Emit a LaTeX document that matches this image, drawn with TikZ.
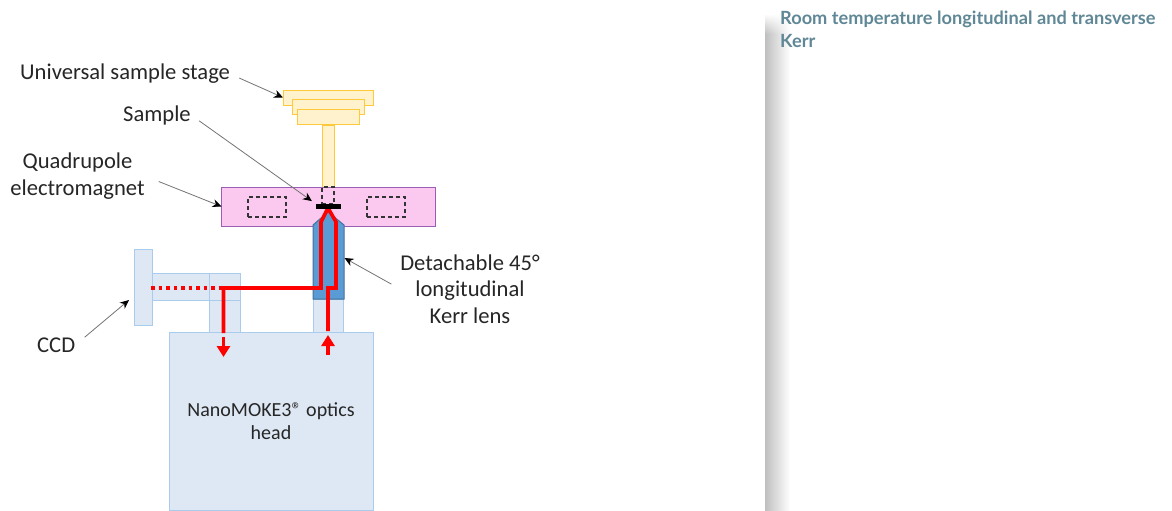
\documentclass[tikz,border=0pt]{standalone}
\usepackage{fontspec}
\setmainfont{Carlito}
\newfontfamily\titlefont{Lato}
\usetikzlibrary{arrows.meta,fadings}
\definecolor{platefill}{HTML}{FFF2CC}
\definecolor{platedraw}{HTML}{FFC93C}
\definecolor{magnetfill}{HTML}{FBC9F0}
\definecolor{magnetdraw}{HTML}{9A5FB5}
\definecolor{tubefill}{HTML}{DEE8F4}
\definecolor{tubedraw}{HTML}{A9CBEC}
\definecolor{lensfill}{HTML}{5B9BD5}
\definecolor{lensdraw}{HTML}{41719C}
\definecolor{titlecolor}{HTML}{5F8796}
\tikzset{
    %Define style for boxes
    part/.style={
           rectangle,
           anchor=north west,
           inner sep=0pt,
           outer sep=0pt,
           line width=1pt},
    plate/.style={part, fill=platefill, draw=platedraw},
    tube/.style={part, fill=tubefill, draw=tubedraw},
    hole/.style={part, draw=black!80, dash pattern=on 4pt off 3pt, line width=1.1pt},
    annote/.style={
          font=\fontsize{22.6}{26.5}\selectfont,
          text=black!85,
          inner sep=0pt,
          align=center
    },
    headnote/.style={annote, font=\fontsize{20}{23}\selectfont},
    % Define arrow style
    pointer/.style={
           -{Stealth[length=9pt,width=8pt,color=black]},
           draw=black!55,
           line width=0.8pt},
    beam/.style={draw=red, line width=3.6pt},
    beamarrow/.style={beam, -{Triangle[length=11pt,width=13pt]}},
}
\begin{document}
\begin{tikzpicture}[x=1pt,y=-1pt]
\useasboundingbox (0,0) rectangle (1172,511);
% sample stage
\node[plate, minimum width=12, minimum height=62] (rod) at (322,125) {};
\node[plate, minimum width=90, minimum height=15] (plateA) at (283,90) {};
\node[plate, minimum width=72, minimum height=15] (plateB) at (292,99) {};
\node[plate, minimum width=62, minimum height=15] (plateC) at (297,109) {};
% electromagnet
\node[part, fill=magnetfill, draw=magnetdraw, minimum width=214, minimum height=39] (magnet) at (221.5,187) {};
\node[hole, minimum width=38, minimum height=20] (poleL) at (248,197) {};
\node[hole, minimum width=38, minimum height=20] (poleR) at (367,197) {};
\node[hole, minimum width=12, minimum height=17] (rodend) at (322,187) {};
% optics
\node[tube, minimum width=204, minimum height=178] (head) at (169,332) {};
\node[tube, minimum width=30, minimum height=33] (tubeR) at (313,299) {};
\node[tube, minimum width=31, minimum height=59] (tubeL) at (209,273) {};
\node[tube, minimum width=88, minimum height=27] (tubeH) at (152,273) {};
\draw[tubedraw, line width=1pt] (tubeL.north west) -- (tubeL.south west);
\node[tube, minimum width=18, minimum height=76] (ccd) at (134,249) {};
\fill[lensfill, draw=lensdraw, line width=1pt] (313,299) -- (313,225) -- (328,212) -- (344,225) -- (344,299) -- cycle;
\coordinate (lensedge) at (344.5,258);
\coordinate (ccdedge) at (129,300);
% beam
\draw[beam, dash pattern=on 3.5pt off 4pt] (151,288) -- (222,288);
\draw[beam, line join=miter] (223.5,333) -- (223.5,288) -- (321,288) -- (321,222) -- (328,208) -- (336,222) -- (336,288) -- (328,288) -- (328,331);
\coordinate (outA) at (223.5,337);
\coordinate (outB) at (223.5,357);
\coordinate (inA) at (328,355);
\coordinate (inB) at (328,335);
\draw[beamarrow] (outA) -- (outB);
\draw[beamarrow] (inA) -- (inB);
\node[part, fill=black, minimum width=25, minimum height=5] (sample) at (316,204) {};
% labels
\node[annote, anchor=west] (stagelabel) at (20,74) {Universal sample stage};
\node[annote, anchor=west] (samplelabel) at (123,115) {Sample};
\node[annote] (magnetlabel) at (77.5,176) {Quadrupole\\electromagnet};
\node[annote] (lenslabel) at (470,289) {Detachable 45°\\longitudinal\\Kerr lens};
\node[annote, anchor=west] (ccdlabel) at (37,345) {CCD};
\node[headnote] (headlabel) at (271,421.5) {NanoMOKE3® optics\\head};
\draw[pointer, shorten <=10pt] (stagelabel.east) -- (plateA.west);
\draw[pointer, shorten <=10pt, shorten >=5pt] (samplelabel.east) -- (sample.north west);
\draw[pointer, shorten <=15pt] (magnetlabel.east) -- (magnet.west);
\draw[pointer, shorten <=10pt] (lenslabel.west) -- (lensedge);
\draw[pointer, shorten <=12pt] (ccdlabel.east) -- (ccdedge);
% side panel
\shade[left color=black!25, middle color=black!15, right color=white, draw=none] (765,16) rectangle (790,511);
\fill[white, path fading=south] (764,14) rectangle (791,34);
\node[anchor=north west, inner sep=0pt, align=left, text=titlecolor,
      font=\titlefont\fontsize{18.2}{23}\selectfont\bfseries] (title) at (780,11) {Room temperature longitudinal and transverse\\Kerr};
\end{tikzpicture}
\end{document}
